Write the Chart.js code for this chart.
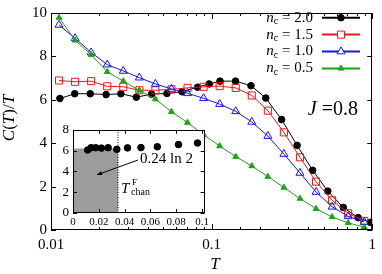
<!DOCTYPE html>
<html>
<head>
<meta charset="utf-8">
<script src="https://cdn.jsdelivr.net/npm/chart.js@4.4.0/dist/chart.umd.min.js"></script>
<style>
  html, body { margin: 0; padding: 0; background: #fff; }
  #wrap { position: relative; width: 382px; height: 274px; }
  #main { position: absolute; left: 0; top: 0; }
  #inset { position: absolute; left: 52px; top: 118px; }
</style>
</head>
<body>
<div id="wrap">
  <canvas id="main" width="382" height="274"></canvas>
  <canvas id="inset" width="160" height="111"></canvas>
</div>
<script>
// n_c = 2.0 (own temperature grid)
const tBlack = [0.01136, 0.01405, 0.01755, 0.02203, 0.02723, 0.03398, 0.04224, 0.05269, 0.06537, 0.08176, 0.0965,
                0.1128, 0.1409, 0.1758, 0.2174, 0.2727, 0.3405, 0.4256, 0.5286, 0.6603, 0.8166, 0.976];
const cBlack = [6.06, 6.28, 6.28, 6.24, 6.28, 6.12, 6.26, 6.29, 6.37, 6.58, 6.73,
                6.86, 6.86, 6.65, 6.08, 5.09, 3.9, 2.75, 1.79, 1.04, 0.57, 0.35];

// n_c = 1.5, 1.0, 0.5 share this grid
const tGrid = [0.01122, 0.01413, 0.01778, 0.02239, 0.02818, 0.03548, 0.04467, 0.05623, 0.07079, 0.08913,
               0.1122, 0.1413, 0.1778, 0.2239, 0.2818, 0.3548, 0.4467, 0.5623, 0.7079, 0.8913];
const cRed   = [6.89, 6.83, 6.86, 6.62, 6.6, 6.44, 6.44, 6.48, 6.55, 6.6,
                6.63, 6.55, 6.2, 5.5, 4.5, 3.35, 2.23, 1.37, 0.77, 0.42];
const cBlue  = [9.45, 8.83, 8.18, 7.62, 7.33, 7.02, 6.73, 6.5, 6.3, 6.07,
                5.8, 5.47, 4.98, 4.33, 3.5, 2.63, 1.75, 1.07, 0.63, 0.37];
const cGreen = [9.79, 8.74, 8.07, 7.29, 6.86, 6.43, 6.03, 5.45, 4.95, 4.39,
                3.87, 3.38, 2.95, 2.46, 1.96, 1.45, 0.98, 0.6, 0.33, 0.13];

const legendLabels = ['2.0', '1.5', '1.0', '0.5'];
const yTicksMain = [0, 2, 4, 6, 8, 10];
const xLabelsMain = [0.01, 0.1, 1];

// inset
const insetTmax = 0.1;
const shadeT = 0.0349;
const shadeTop = 6.2;
const yTicksInset = [0, 2, 4, 6, 8];
const xTicksInset = [0, 0.02, 0.04, 0.06, 0.08, 0.1];
const xLabelsInset = ['0', '0.02', '0.04', '0.06', '0.08', '0.1'];

const SERIF = '"Liberation Serif", "DejaVu Serif", serif';
const RED = 'rgb(240,20,20)', BLUE = 'rgb(20,20,245)', GREEN = 'rgb(30,165,20)';

const pairs = (xs, ys) => xs.map((x, i) => ({ x: x, y: ys[i] }));

function drawRuns(ctx, runs, x, y) {
    runs.forEach(r => {
        ctx.font = r.font;
        ctx.fillText(r.t, x, y + (r.dy || 0));
        x += ctx.measureText(r.t).width;
    });
    return x;
}
function runsWidth(ctx, runs) {
    let w = 0;
    runs.forEach(r => { ctx.font = r.font; w += ctx.measureText(r.t).width; });
    return w;
}
function line(ctx, x1, y1, x2, y2) {
    ctx.beginPath(); ctx.moveTo(x1, y1); ctx.lineTo(x2, y2); ctx.stroke();
}
function marker(ctx, style, x, y, r, color, filled) {
    ctx.beginPath();
    if (style === 'circle') ctx.arc(x, y, r, 0, Math.PI * 2);
    else if (style === 'rect') { const s = r * Math.SQRT1_2; ctx.rect(x - s, y - s, 2 * s, 2 * s); }
    else {
        ctx.moveTo(x, y - r);
        ctx.lineTo(x + r * Math.sin(Math.PI / 3), y + r / 2);
        ctx.lineTo(x - r * Math.sin(Math.PI / 3), y + r / 2);
        ctx.closePath();
    }
    ctx.lineWidth = 1;
    ctx.strokeStyle = color;
    ctx.fillStyle = filled ? color : '#fff';
    ctx.fill();
    ctx.stroke();
}

const series = [
    { data: pairs(tBlack, cBlack), color: '#000', style: 'circle', r: 3.3, filled: true },
    { data: pairs(tGrid, cRed), color: RED, style: 'rect', r: 5, filled: false },
    { data: pairs(tGrid, cBlue), color: BLUE, style: 'triangle', r: 4.6, filled: false },
    { data: pairs(tGrid, cGreen), color: GREEN, style: 'triangle', r: 3.4, filled: true }
];

const mainDecor = {
    id: 'mainDecor',
    afterDraw(chart) {
        const { ctx, chartArea: a, scales: { x, y } } = chart;
        ctx.save();
        ctx.strokeStyle = '#000';
        ctx.lineWidth = 1;
        ctx.strokeRect(Math.round(a.left) + 0.5, Math.round(a.top) + 0.5,
                       Math.round(a.right - a.left) - 1, Math.round(a.bottom - a.top) - 1);

        // inward ticks
        y.ticks.forEach(t => {
            const py = Math.round(y.getPixelForValue(t.value)) + 0.5;
            line(ctx, a.left, py, a.left + 5, py);
            line(ctx, a.right - 5, py, a.right, py);
        });
        x.ticks.forEach(t => {
            const px = Math.round(x.getPixelForValue(t.value)) + 0.5;
            const lg = Math.log10(t.value);
            const len = Math.abs(lg - Math.round(lg)) < 1e-6 ? 6 : 3;
            line(ctx, px, a.bottom, px, a.bottom - len);
            line(ctx, px, a.top, px, a.top + len);
        });

        // legend
        ctx.textBaseline = 'middle';
        ctx.textAlign = 'left';
        series.forEach((s, i) => {
            const ly = 17.7 + 16.9 * i;
            const runs = [
                { t: 'n', font: 'italic 15px ' + SERIF },
                { t: 'c', font: '10px ' + SERIF, dy: 3.5 },
                { t: ' = ' + legendLabels[i], font: '15px ' + SERIF }
            ];
            ctx.fillStyle = '#000';
            drawRuns(ctx, runs, 313 - runsWidth(ctx, runs), ly);
            ctx.strokeStyle = s.color;
            ctx.lineWidth = 2;
            line(ctx, 322, ly, 360, ly);
            marker(ctx, s.style, 341, ly, s.r, s.color, s.filled);
        });

        // J = 0.8
        ctx.fillStyle = '#000';
        const jr = [{ t: 'J', font: 'italic 20px ' + SERIF }, { t: ' =0.8', font: '20px ' + SERIF }];
        drawRuns(ctx, jr, 358 - runsWidth(ctx, jr), 110);

        // axis titles
        const xr = [{ t: 'T', font: 'italic 17px ' + SERIF }];
        drawRuns(ctx, xr, 215 - runsWidth(ctx, xr) / 2, 265);
        const yr = [
            { t: 'C', font: 'italic 17px ' + SERIF }, { t: '(', font: '17px ' + SERIF },
            { t: 'T', font: 'italic 17px ' + SERIF }, { t: ')/', font: '17px ' + SERIF },
            { t: 'T', font: 'italic 17px ' + SERIF }
        ];
        ctx.translate(10, 118);
        ctx.rotate(-Math.PI / 2);
        drawRuns(ctx, yr, -runsWidth(ctx, yr) / 2, 0);
        ctx.restore();
    }
};

new Chart(document.getElementById('main'), {
    type: 'line',
    data: {
        datasets: series.slice().reverse().map(s => ({
            data: s.data,
            borderColor: s.color,
            borderWidth: 1,
            pointStyle: s.style,
            pointRadius: s.r,
            pointBorderWidth: 1,
            pointBorderColor: s.color,
            pointBackgroundColor: s.filled ? s.color : 'rgba(255,255,255,0)',
            tension: 0
        }))
    },
    options: {
        responsive: false,
        animation: false,
        devicePixelRatio: 1,
        events: [],
        layout: { padding: { top: 6, right: 6, left: 0, bottom: 0 } },
        plugins: { legend: { display: false }, tooltip: { enabled: false } },
        scales: {
            x: {
                type: 'logarithmic',
                min: 0.01, max: 1,
                grid: { display: false, drawTicks: false },
                border: { display: false },
                afterFit: s => { s.height = 44; },
                ticks: {
                    autoSkip: false, maxRotation: 0, padding: 6,
                    color: '#000',
                    font: { family: SERIF, size: 15 },
                    callback: v => xLabelsMain.some(l => Math.abs(l - v) < 1e-9) ? String(v) : ''
                }
            },
            y: {
                min: 0, max: 10,
                grid: { display: false, drawTicks: false },
                border: { display: false },
                afterFit: s => { s.width = 51; },
                afterBuildTicks: s => { s.ticks = yTicksMain.map(v => ({ value: v })); },
                ticks: {
                    padding: 4, color: '#000',
                    font: { family: SERIF, size: 15 }
                }
            }
        }
    },
    plugins: [mainDecor]
});

// ---------- inset ----------
const insetDecor = {
    id: 'insetDecor',
    beforeDraw(chart) {
        const { ctx, chartArea: a } = chart;
        ctx.save();
        ctx.fillStyle = '#fff';
        ctx.fillRect(a.left, a.top, a.right - a.left, a.bottom - a.top);
        ctx.restore();
    },
    afterDraw(chart) {
        const { ctx, chartArea: a, scales: { x, y } } = chart;
        ctx.save();
        ctx.strokeStyle = '#000';
        ctx.lineWidth = 1;
        ctx.strokeRect(Math.round(a.left) + 0.5, Math.round(a.top) + 0.5,
                       Math.round(a.right - a.left) - 1, Math.round(a.bottom - a.top) - 1);
        y.ticks.forEach(t => {
            const py = Math.round(y.getPixelForValue(t.value)) + 0.5;
            line(ctx, a.left, py, a.left + 4, py);
            line(ctx, a.right - 4, py, a.right, py);
        });
        x.ticks.forEach(t => {
            const px = Math.round(x.getPixelForValue(t.value)) + 0.5;
            line(ctx, px, a.bottom, px, a.bottom - 4);
            line(ctx, px, a.top, px, a.top + 4);
        });

        // 0.24 ln 2 with arrow
        ctx.fillStyle = '#000';
        ctx.textBaseline = 'middle';
        drawRuns(ctx, [{ t: '0.24 ln 2', font: '15px ' + SERIF }], 88, 41);
        ctx.strokeStyle = '#000';
        line(ctx, 86, 42, 46, 56.5);
        const ang = Math.atan2(56.5 - 42, 46 - 86);
        ctx.beginPath();
        ctx.moveTo(44.5, 57);
        ctx.lineTo(44.5 - 6 * Math.cos(ang - 0.35), 57 - 6 * Math.sin(ang - 0.35));
        ctx.lineTo(44.5 - 6 * Math.cos(ang + 0.35), 57 - 6 * Math.sin(ang + 0.35));
        ctx.closePath();
        ctx.fill();

        // T^F_chan
        ctx.textBaseline = 'alphabetic';
        drawRuns(ctx, [{ t: 'T', font: 'italic 15px ' + SERIF }], 69, 75);
        drawRuns(ctx, [{ t: 'F', font: '9px ' + SERIF }], 80, 67);
        drawRuns(ctx, [{ t: 'chan', font: '10px ' + SERIF }], 79, 77);
        ctx.restore();
    }
};

new Chart(document.getElementById('inset'), {
    type: 'line',
    data: {
        datasets: [
            {
                data: [{ x: shadeT, y: 0 }, { x: shadeT, y: yTicksInset[yTicksInset.length - 1] }],
                borderColor: '#000', borderWidth: 1, borderDash: [1, 1.5],
                pointRadius: 0, fill: false
            },
            {
                data: pairs(tBlack, cBlack).filter(p => p.x <= insetTmax),
                showLine: false,
                pointStyle: 'circle', pointRadius: 3.3,
                pointBackgroundColor: '#000', pointBorderColor: '#000'
            },
            {
                data: [{ x: 0, y: shadeTop }, { x: shadeT, y: shadeTop }],
                borderWidth: 0, borderColor: 'rgba(0,0,0,0)',
                backgroundColor: '#9c9c9c', fill: 'origin', pointRadius: 0
            }
        ]
    },
    options: {
        responsive: false,
        animation: false,
        devicePixelRatio: 1,
        events: [],
        layout: { padding: { top: 7, right: 4, left: 0, bottom: 0 } },
        plugins: { legend: { display: false }, tooltip: { enabled: false } },
        scales: {
            x: {
                type: 'linear', min: 0, max: 0.102,
                grid: { display: false, drawTicks: false }, border: { display: false },
                afterFit: s => { s.height = 16; },
                afterBuildTicks: s => { s.ticks = xTicksInset.map(v => ({ value: v })); },
                ticks: {
                    autoSkip: false, maxRotation: 0,
                    padding: 3, color: '#000',
                    font: { family: SERIF, size: 11 },
                    callback: (v, i) => xLabelsInset[i]
                }
            },
            y: {
                min: 0, max: 8,
                grid: { display: false, drawTicks: false }, border: { display: false },
                afterFit: s => { s.width = 21; },
                afterBuildTicks: s => { s.ticks = yTicksInset.map(v => ({ value: v })); },
                ticks: {
                    padding: 4, color: '#000',
                    font: { family: SERIF, size: 13 }
                }
            }
        }
    },
    plugins: [insetDecor]
});
</script>
</body>
</html>
